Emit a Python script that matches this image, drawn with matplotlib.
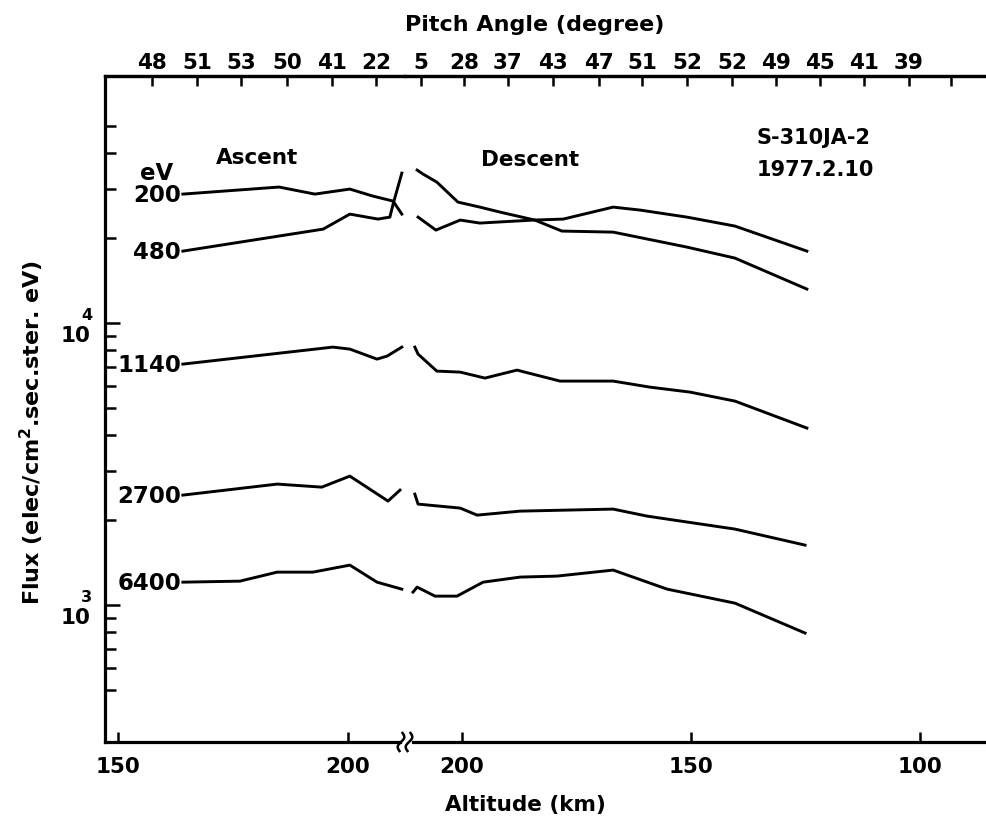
import numpy as np
import matplotlib
matplotlib.use("Agg")
import matplotlib.pyplot as plt
from matplotlib.lines import Line2D
from matplotlib.ticker import NullFormatter, FixedLocator
from matplotlib.transforms import blended_transform_factory

plt.rcParams['font.family'] = ['DejaVu Sans']
plt.rcParams['font.weight'] = 'bold'

# energy channels (eV) and flux vs altitude, ascent and descent legs
energies = ["200", "480", "1140", "2700", "6400"]

asc_alt_200 = [164.1, 185.0, 192.8, 200.4, 205.4, 209.8, 211.7]
asc_flux_200 = [28670, 30370, 28670, 29870, 28210, 27080, 24350]
asc_alt_480 = [164.1, 194.6, 200.4, 206.5, 209.1, 209.8, 211.7]
asc_flux_480 = [18000, 21540, 24350, 23380, 23760, 26420, 34030]
asc_alt_1140 = [164.1, 196.7, 200.4, 206.3, 208.5, 211.7]
asc_flux_1140 = [7154, 8220, 8087, 7452, 7638, 8220]
asc_alt_2700 = [164.1, 184.6, 194.3, 200.4, 208.7, 211.3]
asc_flux_2700 = [2455, 2686, 2620, 2867, 2338, 2557]
asc_alt_6400 = [164.1, 176.5, 184.6, 192.4, 200.4, 206.3, 211.7]
asc_flux_6400 = [1206, 1216, 1309, 1309, 1386, 1206, 1139]

desc_alt_200 = [209.8, 208.5, 205.5, 200.9, 196.1, 191.7, 184.1, 178.2, 167.0, 150.9, 140.4, 124.7]
desc_flux_200 = [34880, 33750, 31620, 26860, 25780, 24750, 23190, 21200, 21020, 18600, 17000, 13200]
desc_alt_480 = [209.6, 205.7, 200.4, 196.1, 184.5, 177.9, 167.0, 161.1, 150.9, 140.4, 124.7]
desc_flux_480 = [23760, 21370, 23190, 22630, 23190, 23380, 25780, 25160, 23760, 22080, 18000]
desc_alt_1140 = [210.3, 209.6, 205.5, 200.4, 195.0, 188.0, 178.6, 167.0, 159.0, 150.2, 140.4, 124.7]
desc_flux_1140 = [8220, 7764, 6757, 6702, 6383, 6812, 6228, 6228, 5929, 5692, 5289, 4244]
desc_alt_2700 = [210.3, 209.6, 200.4, 196.7, 187.3, 167.0, 159.6, 140.4, 125.1]
desc_flux_2700 = [2475, 2281, 2208, 2085, 2154, 2190, 2068, 1860, 1632]
desc_alt_6400 = [210.7, 209.8, 205.9, 201.1, 195.4, 187.3, 179.3, 167.0, 155.2, 140.4, 125.1]
desc_flux_6400 = [1112, 1158, 1076, 1076, 1206, 1257, 1267, 1331, 1139, 1016, 796]

# pitch angle marks (top axis) at altitude positions
pitch_alt_asc = [157.4, 167.2, 176.7, 186.7, 196.5, 206.1]
pitch_lab_asc = ["48", "51", "53", "50", "41", "22"]
pitch_alt_desc = [209.0, 199.6, 190.0, 180.1, 170.1, 160.7, 150.9, 141.0,
                  131.4, 121.8, 112.2, 102.4, 93.2]
pitch_lab_desc = ["5", "28", "37", "43", "47", "51", "52", "52", "49", "45",
                  "41", "39", ""]

alt_ticks_asc = [150, 200]
alt_ticks_desc = [200, 150, 100]
flux_major = [1e3, 1e4]
flux_major_exp = ["3", "4"]
flux_minor = [500, 600, 700, 800, 900, 2000, 3000, 4000, 5000, 6000, 7000,
              8000, 9000, 20000, 30000, 40000, 50000]

ascent = [(asc_alt_200, asc_flux_200), (asc_alt_480, asc_flux_480),
          (asc_alt_1140, asc_flux_1140), (asc_alt_2700, asc_flux_2700),
          (asc_alt_6400, asc_flux_6400)]
descent = [(desc_alt_200, desc_flux_200), (desc_alt_480, desc_flux_480),
           (desc_alt_1140, desc_flux_1140), (desc_alt_2700, desc_flux_2700),
           (desc_alt_6400, desc_flux_6400)]

W, H = 986, 820
fig = plt.figure(figsize=(W / 100, H / 100), dpi=100)
bot, top = 743, 77
axA = fig.add_axes([105 / W, 1 - bot / H, 300 / W, (bot - top) / H])
axD = fig.add_axes([405 / W, 1 - bot / H, 581 / W, (bot - top) / H])

ylim = (327, 75200)
lw_spine = 2.3
fs = 15.5

for ax in (axA, axD):
    ax.set_yscale('log')
    ax.set_ylim(*ylim)
    ax.spines['right'].set_visible(False)
    ax.spines['top'].set_linewidth(lw_spine)
    ax.spines['bottom'].set_linewidth(lw_spine)
    ax.tick_params(axis='x', direction='in', length=7, width=1.8,
                   labelsize=fs, pad=10)

axA.set_xlim(147.17, 212.39)
axD.set_xlim(212.45, 85.59)
axD.spines['left'].set_visible(False)
axA.spines['left'].set_linewidth(lw_spine)

axA.spines['bottom'].set_bounds(147.17, 211.4)
axD.spines['bottom'].set_bounds(210.6, 85.59)

axA.yaxis.set_major_locator(FixedLocator(flux_major))
axA.yaxis.set_major_formatter(NullFormatter())
axA.yaxis.set_minor_locator(FixedLocator(flux_minor))
axA.yaxis.set_minor_formatter(NullFormatter())
axA.tick_params(axis='y', which='major', direction='in', length=11, width=1.8)
axA.tick_params(axis='y', which='minor', direction='in', length=8, width=1.8)
axD.tick_params(axis='y', which='both', left=False, labelleft=False)

# "10" with a raised exponent, as in the original lettering
ytr = blended_transform_factory(axA.transAxes, axA.transData)
for v, ex in zip(flux_major, flux_major_exp):
    axA.text(-0.048, v * 0.985, "10", transform=ytr, ha='right', va='top',
             fontsize=fs)
    axA.text(-0.043, v * 1.005, ex, transform=ytr, ha='right', va='bottom',
             fontsize=11.5)

axA.set_xticks(alt_ticks_asc)
axA.set_xticklabels([str(v) for v in alt_ticks_asc])
axD.set_xticks(alt_ticks_desc)
axD.set_xticklabels([str(v) for v in alt_ticks_desc])

# top pitch-angle axis
for ax, pa, pl in ((axA, pitch_alt_asc, pitch_lab_asc), (axD, pitch_alt_desc, pitch_lab_desc)):
    tw = ax.twiny()
    tw.set_xlim(ax.get_xlim())
    tw.set_xticks(pa)
    tw.set_xticklabels(pl)
    tw.tick_params(axis='x', direction='in', length=7, width=1.8,
                   labelsize=fs, pad=3)
    for s in ('left', 'right', 'bottom'):
        tw.spines[s].set_visible(False)
    tw.spines['top'].set_linewidth(lw_spine)

for alt, flux in ascent:
    axA.plot(alt, flux, color='black', lw=2.1, solid_joinstyle='round')
for alt, flux in descent:
    axD.plot(alt, flux, color='black', lw=2.1, solid_joinstyle='round')

# energy labels at the start of each ascent curve
for (alt, flux), e in zip(ascent, energies):
    axA.text(alt[0] - 0.4, flux[0], e, ha='right', va='center', fontsize=fs + 1)
axA.text(162.0, 34300, "eV", ha='right', va='center', fontsize=fs + 1)

axA.text(180.2, 38800, "Ascent", ha='center', va='center', fontsize=fs)
axD.text(185.2, 38200, "Descent", ha='center', va='center', fontsize=fs)
axD.text(135.8, 45700, "S-310JA-2", ha='left', va='center', fontsize=fs - 0.5)
axD.text(135.6, 35200, "1977.2.10", ha='left', va='center', fontsize=fs - 0.5)

fig.text(32 / W, 1 - 432 / H, r'Flux (elec/cm$^{\mathbf{2}}$.sec.ster. eV)',
         rotation=90, ha='center', va='center', fontsize=fs + 0.5)
fig.text(525 / W, 1 - 805 / H, "Altitude (km)", ha='center', va='center', fontsize=fs)
fig.text(535 / W, 1 - 25 / H, "Pitch Angle (degree)", ha='center', va='center', fontsize=fs + 0.5)

# axis break mark
t = np.linspace(0, 1, 30)
for x0 in (401, 409):
    xs = x0 + 2.5 * np.sin(2 * np.pi * t) - 3 * t + 1.5
    ys = 734 + 18 * t
    fig.add_artist(Line2D(xs / W, 1 - ys / H, color='black', lw=1.8,
                          transform=fig.transFigure))

fig.savefig("out.png", dpi=100)
